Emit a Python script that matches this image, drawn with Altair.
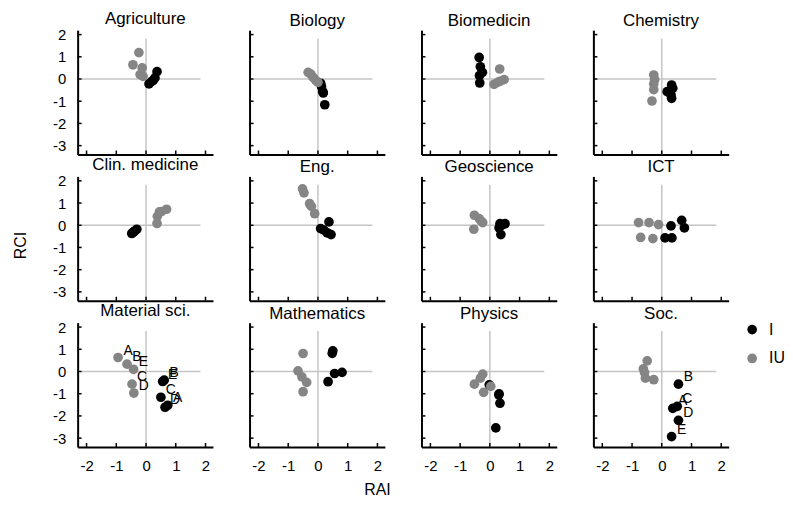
import altair as alt
import pandas as pd

FIELDS = ["Agriculture", "Biology", "Biomedicin", "Chemistry",
          "Clin. medicine", "Eng.", "Geoscience", "ICT",
          "Material sci.", "Mathematics", "Physics", "Soc."]

# RAI / RCI of the "I" series (black) per field
I_RAI = [
    [0.37, 0.30, 0.20, 0.10, 0.25],
    [0.09, 0.16, 0.18, 0.23, 0.12],
    [-0.36, -0.32, -0.25, -0.35, -0.34],
    [0.33, 0.37, 0.18, 0.33, 0.31],
    [-0.44, -0.39, -0.31, -0.48, -0.42],
    [0.37, 0.09, 0.31, 0.44, 0.20],
    [0.34, 0.51, 0.31, 0.37, 0.42],
    [0.31, 0.67, 0.76, 0.11, 0.34],
    [0.73, 0.61, 0.50, 0.64, 0.56],
    [0.50, 0.48, 0.81, 0.56, 0.34],
    [-0.02, 0.31, 0.34, 0.20, 0.30],
    [0.37, 0.56, 0.52, 0.56, 0.33],
]
I_RCI = [
    [0.33, 0.05, -0.10, -0.22, -0.05],
    [-0.19, -0.57, -0.63, -1.16, -0.35],
    [0.97, 0.55, 0.30, 0.15, -0.18],
    [-0.27, -0.42, -0.57, -0.87, -0.72],
    [-0.33, -0.27, -0.18, -0.37, -0.30],
    [0.15, -0.15, -0.34, -0.42, -0.22],
    [0.07, 0.07, -0.12, -0.42, 0.02],
    [-0.03, 0.22, -0.12, -0.57, -0.57],
    [-1.52, -0.39, -1.16, -1.61, -0.45],
    [0.93, 0.82, -0.04, -0.09, -0.46],
    [-0.60, -1.01, -1.43, -2.54, -1.05],
    [-1.66, -0.57, -1.57, -2.20, -2.93],
]
# RAI / RCI of the "IU" series (grey) per field
IU_RAI = [
    [-0.24, -0.44, -0.13, -0.20, -0.10],
    [-0.33, -0.24, -0.16, -0.07, 0.00],
    [0.33, 0.48, 0.34, 0.14, 0.26],
    [-0.27, -0.24, -0.27, -0.27, -0.33],
    [0.69, 0.45, 0.38, 0.37, 0.52],
    [-0.52, -0.47, -0.28, -0.11, -0.22],
    [-0.52, -0.36, -0.24, -0.54, -0.30],
    [-0.78, -0.43, -0.11, -0.71, -0.30],
    [-0.94, -0.64, -0.47, -0.41, -0.42],
    [-0.50, -0.67, -0.54, -0.38, -0.50],
    [-0.24, -0.32, -0.52, -0.21, 0.03],
    [-0.49, -0.62, -0.58, -0.55, -0.27],
]
IU_RCI = [
    [1.19, 0.64, 0.50, 0.20, 0.12],
    [0.30, 0.22, 0.07, -0.07, -0.15],
    [0.45, -0.03, -0.10, -0.24, -0.15],
    [0.18, -0.03, -0.22, -0.48, -0.99],
    [0.72, 0.60, 0.40, 0.08, 0.62],
    [1.64, 1.46, 0.97, 0.52, 0.85],
    [0.45, 0.30, 0.12, -0.18, 0.20],
    [0.12, 0.12, 0.03, -0.55, -0.60],
    [0.63, 0.33, -0.57, -0.97, 0.10],
    [0.81, 0.03, -0.24, -0.49, -0.91],
    [-0.12, -0.30, -0.57, -0.94, -0.67],
    [0.48, 0.12, -0.05, -0.30, -0.37],
]
# point labels (only two fields carry them)
I_LABELS = {"Material sci.": ["A", "B", "C", "D", "E"],
            "Soc.": ["A", "B", "C", "D", "E"]}
IU_LABELS = {"Material sci.": ["A", "B", "C", "D", "E"]}

X_TICKS = [-2, -1, 0, 1, 2]
Y_TICKS = [-3, -2, -1, 0, 1, 2]
X_DOMAIN = [-2.3, 2.25]
Y_DOMAIN = [-3.4, 2.2]
H_LINE = [-2.17, 1.83]
V_LINE_TOP = 1.82

rows = []
for i, f in enumerate(FIELDS):
    for j in range(len(I_RAI[i])):
        lab = I_LABELS.get(f, [""] * 5)[j]
        rows.append(dict(field=f, group="I", RAI=I_RAI[i][j], RCI=I_RCI[i][j], lab=lab))
    for j in range(len(IU_RAI[i])):
        lab = IU_LABELS.get(f, [""] * 5)[j]
        rows.append(dict(field=f, group="IU", RAI=IU_RAI[i][j], RCI=IU_RCI[i][j], lab=lab))
df = pd.DataFrame(rows)

W, H = 136, 125
FONT = "Liberation Sans"
xticks_df = pd.DataFrame({"v": X_TICKS})
yticks_df = pd.DataFrame({"v": Y_TICKS})
ref_df = pd.DataFrame({"a": [0]})

color = alt.Color("group:N", scale=alt.Scale(domain=["I", "IU"], range=["#000000", "#858585"]),
                  legend=alt.Legend(title=None, orient="none", legendX=670, legendY=293,
                                    symbolType="circle", symbolSize=95, symbolStrokeWidth=0,
                                    labelFontSize=16, labelFont=FONT, rowPadding=13,
                                    labelOffset=9, padding=0))

panels = []
for i, f in enumerate(FIELDS):
    col, row = i % 4, i // 4
    xkw = dict(values=X_TICKS, labels=(row == 2), title=None, labelExpr="datum.value + ''")
    ykw = dict(values=Y_TICKS, labels=(col == 0), title=None, labelExpr="datum.value + ''")
    if i == 9:
        xkw.update(title="RAI", titleX=128, titleY=43, titleAlign="center", titleBaseline="middle",
                   titleFontSize=16, titleFontWeight="normal", titleFont=FONT)
    if i == 4:
        ykw.update(title="RCI", titleX=-57, titleY=69, titleAlign="center", titleBaseline="middle",
                   titleAngle=-90, titleFontSize=16, titleFontWeight="normal", titleFont=FONT)
    xaxis = alt.Axis(**xkw)
    yaxis = alt.Axis(**ykw)
    xs = alt.Scale(domain=X_DOMAIN, nice=False, zero=False)
    ys = alt.Scale(domain=Y_DOMAIN, nice=False, zero=False)
    sub = df[df.field == f]

    hline = alt.Chart(ref_df).mark_rule(color="#c4c4c4", strokeWidth=1.5).encode(
        x=alt.datum(H_LINE[0], scale=xs, axis=xaxis), x2=alt.datum(H_LINE[1]),
        y=alt.datum(0, scale=ys, axis=yaxis))
    vline = alt.Chart(ref_df).mark_rule(color="#c4c4c4", strokeWidth=1.5).encode(
        x=alt.datum(0, scale=xs, axis=xaxis), y=alt.datum(Y_DOMAIN[0], scale=ys, axis=yaxis),
        y2=alt.datum(V_LINE_TOP))
    pts = alt.Chart(sub).mark_circle(size=95, opacity=1).encode(
        x=alt.X("RAI:Q", scale=xs, axis=xaxis), y=alt.Y("RCI:Q", scale=ys, axis=yaxis), color=color)
    layers = [hline, vline, pts]
    if (sub.lab != "").any():
        txt = alt.Chart(sub[sub.lab != ""]).mark_text(
            align="center", baseline="middle", dx=10, dy=-7, fontSize=14, font=FONT, color="black"
        ).encode(x=alt.X("RAI:Q", scale=xs, axis=xaxis), y=alt.Y("RCI:Q", scale=ys, axis=yaxis),
                 text="lab:N")
        layers.append(txt)
    xt = alt.Chart(xticks_df).mark_rule(color="black", strokeWidth=1.5).encode(
        x=alt.X("v:Q", scale=xs, axis=xaxis), y=alt.value(H), y2=alt.value(H - 4))
    yt = alt.Chart(yticks_df).mark_rule(color="black", strokeWidth=1.5).encode(
        y=alt.Y("v:Q", scale=ys, axis=yaxis), x=alt.value(0), x2=alt.value(4))
    layers += [xt, yt]
    p = alt.layer(*layers).properties(
        width=W, height=H,
        title=alt.TitleParams(f, fontSize=17, font=FONT, fontWeight="normal", offset=0, color="black"))
    panels.append(p)

chart = alt.concat(*panels, columns=4, spacing={"row": 22, "column": 36.8}, bounds="flush").configure_view(
    stroke=None
).configure_axis(
    labelFont=FONT, labelFontSize=15, labelColor="black", domainColor="black", domainWidth=2,
    ticks=False, grid=False, labelPadding=12, labelFlush=False, labelOverlap=False
).properties(padding={"left": 5, "top": 0, "right": 0, "bottom": 0})

chart.save("out.html", embed_options={"renderer": "svg", "actions": False})
